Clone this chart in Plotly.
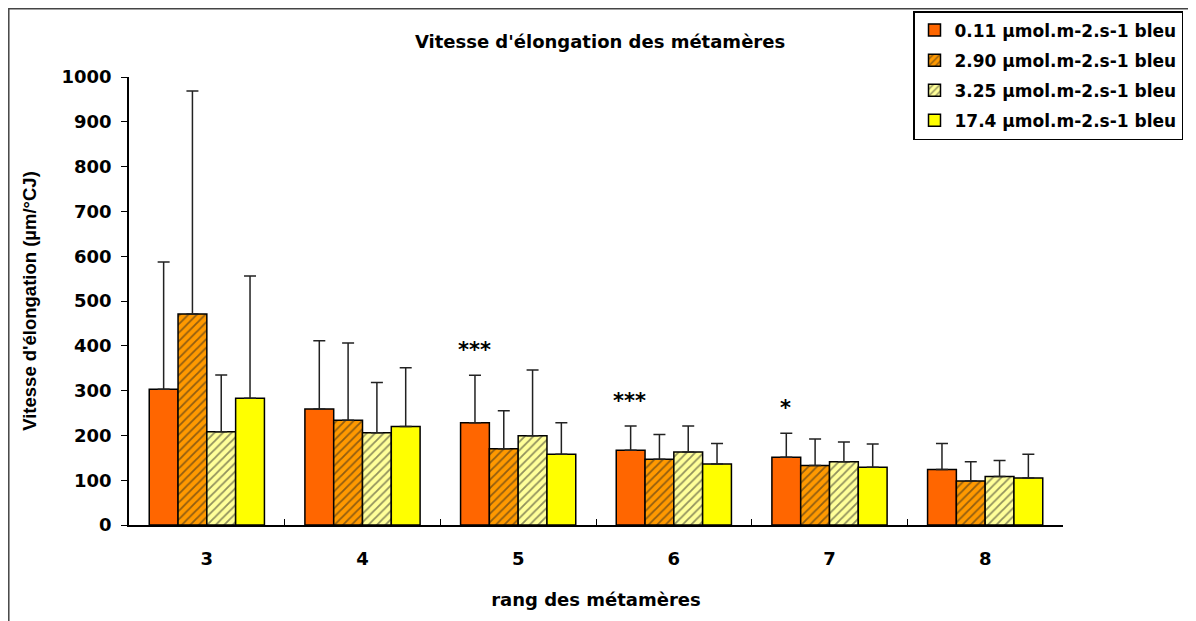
import plotly.graph_objects as go

rangs = ["3", "4", "5", "6", "7", "8"]
series_names = [
    "0.11 µmol.m-2.s-1 bleu",
    "2.90 µmol.m-2.s-1 bleu",
    "3.25 µmol.m-2.s-1 bleu",
    "17.4 µmol.m-2.s-1 bleu",
]
v_011 = [303, 259, 228, 167, 151, 124]
v_290 = [471, 234, 170, 147, 133, 98]
v_325 = [208, 206, 199, 163, 141, 108]
v_174 = [283, 220, 158, 136, 129, 105]
e_011 = [587, 411, 334, 221, 205, 182]   # top of error bar
e_290 = [969, 406, 255, 202, 192, 141]
e_325 = [335, 318, 346, 221, 185, 144]
e_174 = [556, 351, 228, 182, 181, 158]
signif = ["", "", "***", "***", "*", ""]

values = [v_011, v_290, v_325, v_174]
tops = [e_011, e_290, e_325, e_174]
colors = ["#FF6600", "#FF9900", "#FFFF99", "#FFFF00"]
hatched = [False, True, True, False]

fig = go.Figure()
for k, (name, vals, top, col, hatch) in enumerate(zip(series_names, values, tops, colors, hatched)):
    pattern = dict(shape="/", fgcolor="#222222", bgcolor=col, size=6, solidity=0.3) if hatch else dict(shape="")
    fig.add_trace(go.Bar(
        x=rangs, y=vals, name="<b>" + name + "</b>", legendgroup=str(k),
        marker=dict(color=col, line=dict(color="black", width=1.5), pattern=pattern),
        error_y=dict(type="data", symmetric=False,
                     array=[t - v for t, v in zip(top, vals)],
                     arrayminus=[0] * len(vals),
                     color="#222222", thickness=1.5, width=6),
    ))

for i, (s, t) in enumerate(zip(signif, e_011)):
    if s:
        fig.add_annotation(x=i, y=t, text="<b>" + s + "</b>", showarrow=False,
                           xshift=-44, yshift=25, font=dict(size=21, color="black"))

# outer frame
fig.add_shape(type="rect", xref="paper", yref="paper", x0=-0.1287, x1=1.137, y0=-0.4, y1=1.1523,
              line=dict(color="#444444", width=1.5), layer="below")

fig.update_layout(
    width=1196, height=621,
    margin=dict(l=121, r=141, t=69, b=104, autoexpand=False),
    paper_bgcolor="white", plot_bgcolor="white",
    font=dict(family="DejaVu Sans", color="black"),
    barmode="group", bargap=0.26, bargroupgap=0,
    title=dict(text="<b>Vitesse d'élongation des métamères</b>", x=0.495, xanchor="center",
               xref="container", yref="container",
               y=0.945, yanchor="middle", font=dict(size=18)),
    xaxis=dict(
        title=dict(text="<b>rang des métamères</b>", font=dict(size=18), standoff=25),
        tickfont=dict(size=18), tickprefix="<b>", ticksuffix="</b>",
        showline=True, linecolor="black", linewidth=1.5,
        ticks="inside", tickson="boundaries", ticklen=6, tickcolor="black",
        ticklabelstandoff=17,
        showgrid=False, range=[-0.5, 5.5],
    ),
    yaxis=dict(
        title=dict(text="<b>Vitesse d'élongation (µm/°CJ)</b>", font=dict(size=18.5, family="Liberation Sans Narrow, Liberation Sans"), standoff=20),
        range=[0, 1000], dtick=100, tickfont=dict(size=18),
        tickprefix="<b>", ticksuffix="</b>",
        showline=True, linecolor="black", linewidth=1.5,
        ticks="outside", ticklen=6, tickcolor="black", ticklabelstandoff=6,
        showgrid=False, zeroline=False,
    ),
    legend=dict(
        xref="container", yref="container", x=905 / 1196, y=1 - 3 / 621, xanchor="left", yanchor="top",
        bordercolor="black", borderwidth=1.5, bgcolor="white",
        font=dict(size=17), tracegroupgap=5, itemwidth=30,
    ),
    showlegend=True,
)

fig.write_html("out.html")
